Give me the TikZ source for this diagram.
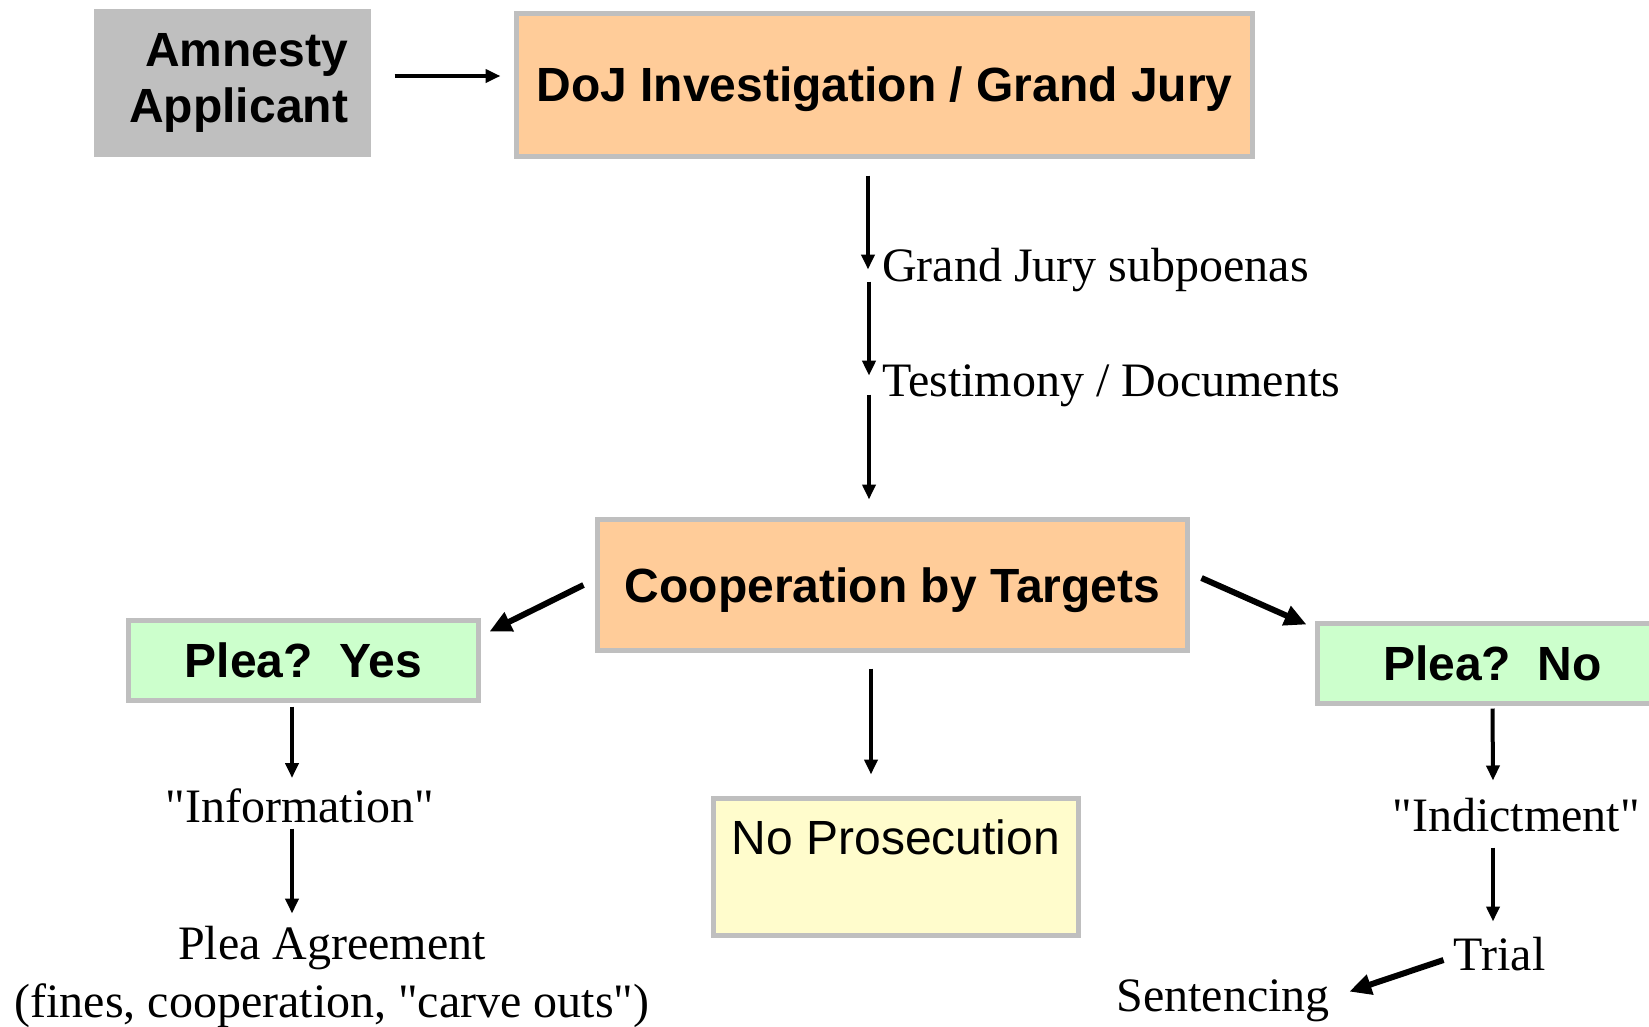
\documentclass[tikz,border=0pt]{standalone}
\usepackage{fontspec}
\setmainfont{Liberation Serif}
\setsansfont{Liberation Sans}
\usepackage{tikz}
\usetikzlibrary{arrows.meta}

\begin{document}
\begin{tikzpicture}
                    [x=1pt, y=-1pt,
                    box/.style={rectangle, inner sep=0pt,
                        line width=5pt, draw=black!25,
                        font=\sffamily\bfseries\fontsize{48}{56}\selectfont},
                    app/.style={box, draw=none, fill=black!25,
                        minimum width=277pt, minimum height=147.5pt,
                        text width=231pt, inner xsep=23pt, align=right},
                    op/.style={box, fill=orange!40!white,
                        text height=34pt, text depth=0pt},
                    plea/.style={box, fill=green!20,
                        text height=34pt, text depth=0pt,
                        minimum width=350pt, minimum height=80pt},
                    res/.style={box, fill=yellow!20, font=\sffamily\fontsize{48}{56}\selectfont,
                        minimum width=365pt, minimum height=137pt,
                        text height=34pt, text depth=60pt},
                    txt/.style={inner sep=0pt,
                        font=\rmfamily\fontsize{48}{58}\selectfont},
                    arr/.style={line width=4pt, -{Triangle[length=15pt,width=13pt]}},
                    big/.style={line width=6pt, -{Triangle[length=22pt,width=20pt]}}]

                    \useasboundingbox (0,0) rectangle (1649,1026);
                    \clip (0,0) rectangle (1649,1026);

                    % boxes
                    \node[app] (app) at (232.5,83)
                        {Amnesty\\Applicant};
                    \node[op, minimum width=736pt, minimum height=143.5pt]
                        (doj) at (884.5,84.75) {DoJ Investigation / Grand Jury};
                    \node[op, minimum width=590pt, minimum height=131pt]
                        (coop) at (892.5,585) {Cooperation by Targets};
                    \node[plea] (yes) at (303.5,660.5)
                        {Plea?\ \ Yes};
                    \node[plea] (no) at (1492.5,663.5)
                        {Plea?\ \ No};
                    \node[res] (nopros) at (896,867)
                        {No Prosecution};

                    % plain texts
                    \node[txt, anchor=base west] (gj) at (882,281)
                        {Grand Jury subpoenas};
                    \node[txt, anchor=base west] (td) at (882,396)
                        {Testimony / Documents};
                    \node[txt, anchor=base] (info) at (300,822)
                        {\textquotedbl Information\textquotedbl};
                    \node[txt, align=center] (pa) at (332,976.5)
                        {Plea Agreement\\(fines, cooperation, \textquotedbl carve outs\textquotedbl)};
                    \node[txt, anchor=base] (ind) at (1516,831)
                        {\textquotedbl Indictment\textquotedbl};
                    \node[txt, anchor=base] (trial) at (1499.5,970)
                        {Trial};
                    \node[txt, anchor=base] (sent) at (1223,1011)
                        {Sentencing};

                    % arrows
                    \draw[arr] ([xshift=21pt,yshift=7pt]app.east)
                        -- ([xshift=-13.5pt,yshift=8.75pt]doj.west);
                    \draw[arr] ([xshift=-16.5pt,yshift=-16.5pt]doj.south)
                        -- ([xshift=-14pt]gj.west);
                    \draw[arr] ([xshift=-13pt,yshift=-12pt]gj.west)
                        -- ([xshift=-13pt,yshift=9.6pt]td.west);
                    \draw[arr] ([xshift=-13pt,yshift=-9.4pt]td.west)
                        -- ([xshift=-23.5pt,yshift=17.5pt]coop.north);
                    \draw[big] ([xshift=-11.5pt]coop.west)
                        -- ([xshift=8.5pt,yshift=-13.5pt]yes.north east);
                    \draw[big] ([xshift=11.5pt,yshift=7pt]coop.east)
                        -- ([xshift=-8.5pt,yshift=-3.5pt]no.north west);
                    \draw[arr] ([xshift=-21.5pt,yshift=-15.5pt]coop.south)
                        -- ([xshift=-25pt,yshift=21.5pt]nopros.north);
                    \draw[arr] ([xshift=-11.5pt,yshift=-3.5pt]yes.south)
                        -- ([xshift=-8pt,yshift=10pt]info.north);
                    \draw[arr] ([xshift=-8pt,yshift=-6pt]info.south)
                        -- ([xshift=-40pt,yshift=12pt]pa.north);
                    \draw[arr] ([yshift=-2.5pt]no.south)
                        -- ([xshift=-23pt,yshift=17pt]ind.north);
                    \draw[arr] ([xshift=-23pt,yshift=-16pt]ind.south)
                        -- ([xshift=-6.5pt,yshift=15pt]trial.north);
                    \draw[big] ([xshift=-10pt,yshift=-6.4pt]trial.west)
                        -- ([xshift=19.5pt,yshift=8.7pt]sent.east);
                \end{tikzpicture}
\end{document}
